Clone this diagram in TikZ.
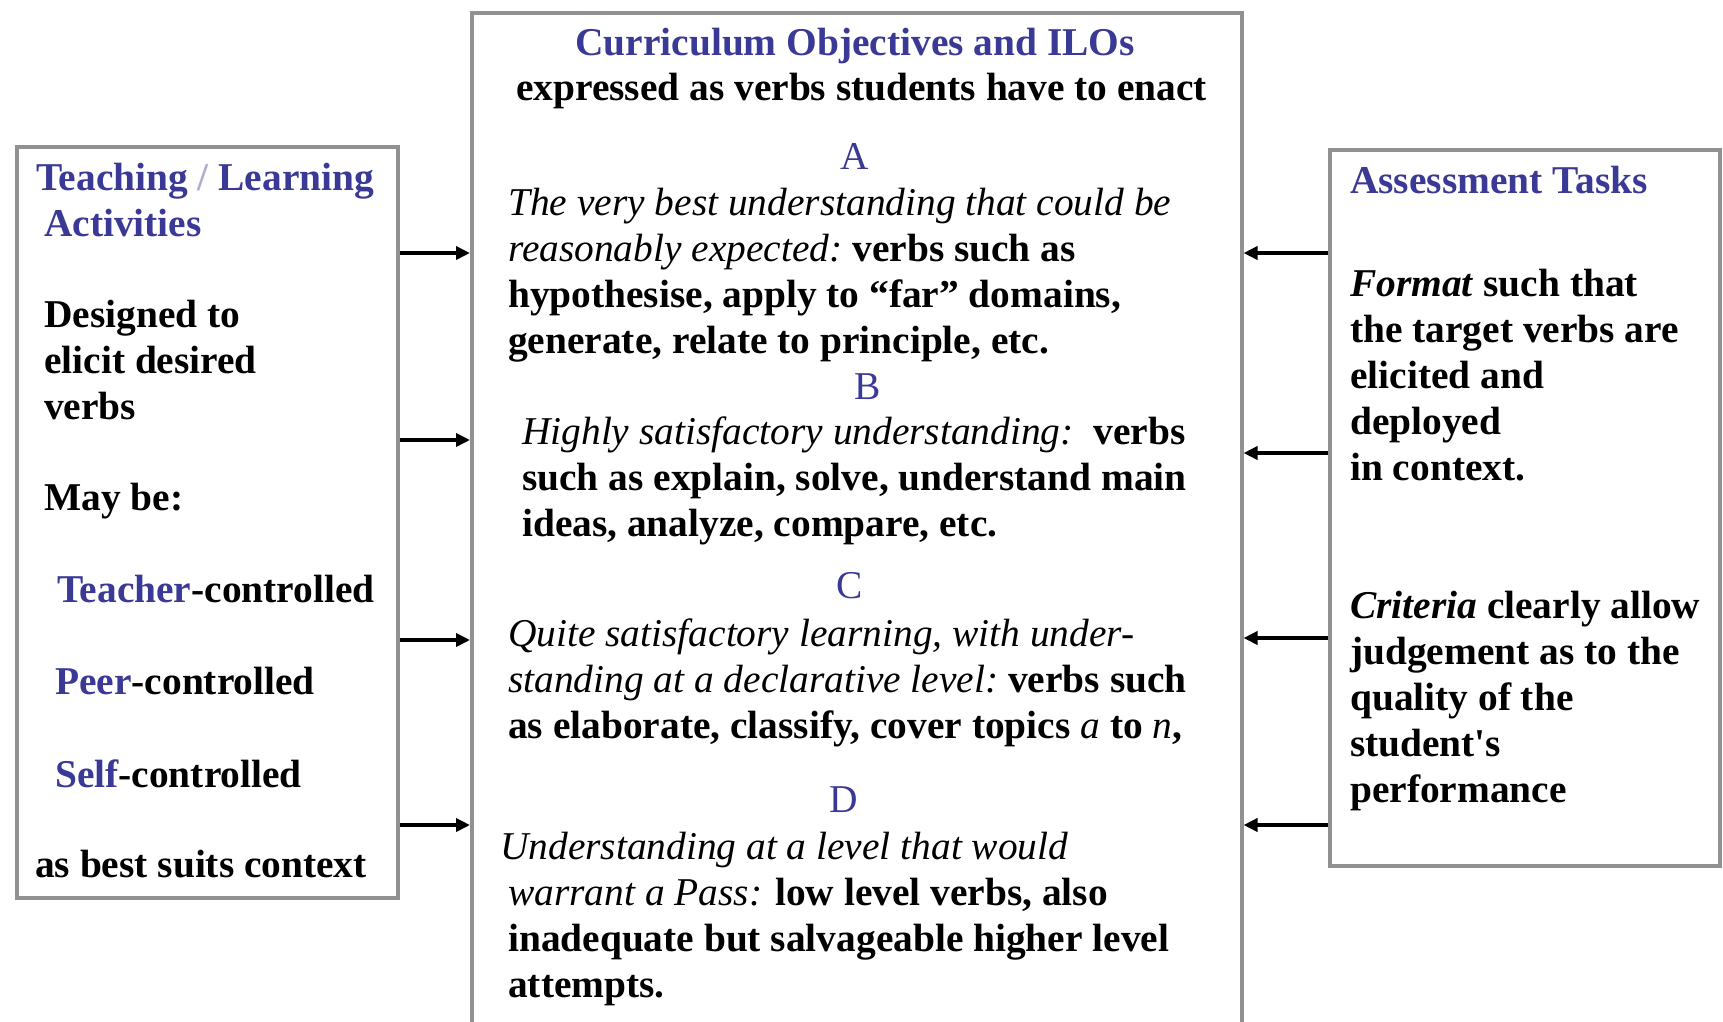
\documentclass[tikz,border=0pt]{standalone}
\usepackage{fontspec}
\setmainfont{Liberation Serif}
\usetikzlibrary{arrows.meta}
\definecolor{hdblue}{RGB}{58,58,150}
\definecolor{boxgray}{RGB}{145,145,145}
\definecolor{slashgray}{RGB}{175,175,205}
% a stack of lines with a fixed baseline distance; its baseline is the first line's
\newcommand\stk[1]{\vtop{\baselineskip=46pt\lineskiplimit=-\maxdimen #1}}
\newcommand\rw[1]{\hbox{#1}}
\newcommand\iem[1]{{\mdseries\itshape #1}}
\newcommand\hd[1]{\textcolor{hdblue}{#1}}

\begin{document}
\begin{tikzpicture}[x=1pt,y=-1pt,
  panel/.style={draw=boxgray,line width=3.5pt,fill=white,inner sep=0pt,anchor=north west},
  txt/.style={anchor=base west,inner sep=0pt,font=\fontsize{39.4}{46}\selectfont\bfseries},
  lvl/.style={anchor=base,inner sep=0pt,font=\fontsize{39.4}{46}\selectfont,text=hdblue},
  arr/.style={line width=4.5pt,-{Triangle[length=14pt,width=13pt]}}]

\clip (0,0) rectangle (1723,1021);
\fill[white] (0,0) rectangle (1723,1021);

% the three panels
\node[panel,minimum width=381pt,minimum height=751pt] (tla) at (15,145) {};
\node[panel,minimum width=770pt,minimum height=1040pt] (ilo) at (470,11) {};
\node[panel,minimum width=390pt,minimum height=716pt] (at) at (1328,148) {};

% connectors into the central panel
\foreach \y in {253,440,640,825}
  \draw[arr] (tla.east |- 0,\y) -- (ilo.west |- 0,\y);
\foreach \y in {253,453,638,825}
  \draw[arr] (at.west |- 0,\y) -- (ilo.east |- 0,\y);

% central panel: objectives and levels
\node[txt,anchor=base] (ilotitle) at (855,55) {\hd{Curriculum Objectives and ILOs}};
\node[txt] (ilosub) at (516,100) {expressed as verbs students have to enact};

\node[lvl] (la) at (855,169) {A};
\node[txt] (ta) at (508,215) {\stk{%
  \rw{\iem{The very best understanding that could be}}%
  \rw{\iem{reasonably expected:}\ verbs such as}%
  \rw{hypothesise, apply to “far” domains,}%
  \rw{generate, relate to principle, etc.}}};

\node[lvl] (lb) at (868,399) {B};
\node[txt] (tb) at (522,444) {\stk{%
  \rw{\iem{Highly satisfactory understanding:}\ \ verbs}%
  \rw{such as explain, solve, understand main}%
  \rw{ideas, analyze, compare, etc.}}};

\node[lvl] (lc) at (850,598) {C};
\node[txt] (tc) at (508,646) {\stk{%
  \rw{\iem{Quite satisfactory learning, with under-}}%
  \rw{\iem{standing at a declarative level:}\ verbs such}%
  \rw{as elaborate, classify, cover topics \iem{a} to \iem{n},}}};

\node[lvl] (ld) at (844,812) {D};
\node[txt] (td1) at (500,859) {\iem{Understanding at a level that would}};
\node[txt] (td) at (508,905) {\stk{%
  \rw{\iem{warrant a Pass:} low level verbs, also}%
  \rw{inadequate but salvageable higher level}%
  \rw{attempts.}}};

% left panel: teaching / learning activities
\node[txt] (tlahead) at (36,190) {\stk{%
  \rw{\hd{Teaching \textcolor{slashgray}{/} Learning}}%
  \rw{\hspace{8pt}\hd{Activities}}}};
\node[txt] (tladesc) at (44,327) {\stk{%
  \rw{Designed to}\rw{elicit desired}\rw{verbs}}};
\node[txt] (maybe) at (44,510) {May be:};
\node[txt] (teacher) at (57,602) {\hd{Teacher}-controlled};
\node[txt] (peer) at (55,694) {\hd{Peer}-controlled};
\node[txt] (self) at (55,787) {\hd{Self}-controlled};
\node[txt] (suits) at (35,877) {as best suits context};

% right panel: assessment tasks
\node[txt] (athead) at (1350,193) {\hd{Assessment Tasks}};
\node[txt] (format) at (1350,296) {\stk{%
  \rw{\textit{Format} such that}%
  \rw{the target verbs are}%
  \rw{elicited and}%
  \rw{deployed}%
  \rw{in context.}}};
\node[txt] (criteria) at (1350,618) {\stk{%
  \rw{\textit{Criteria} clearly allow}%
  \rw{judgement as to the}%
  \rw{quality of the}%
  \rw{student\textquotesingle s}%
  \rw{performance}}};
\end{tikzpicture}
\end{document}
